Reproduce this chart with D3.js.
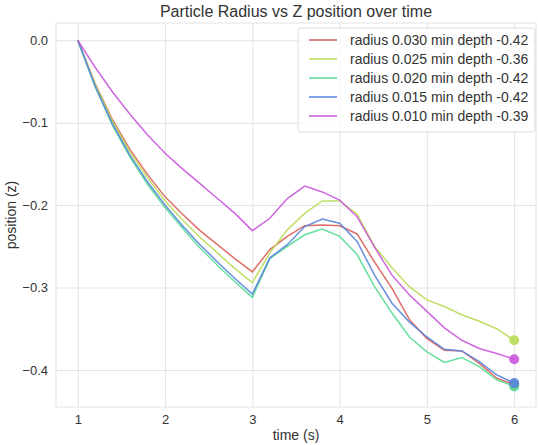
<!DOCTYPE html>
<html>
<head>
<meta charset="utf-8">
<script src="https://cdn.jsdelivr.net/npm/d3@7"></script>
<style>
  body { margin: 0; background: #fff; }
  svg { display: block; }
</style>
</head>
<body>
<div id="chart"></div>
<script>
// Time steps (s).
const times = [1.0, 1.2, 1.4, 1.6, 1.8, 2.0, 2.2, 2.4, 2.6, 2.8, 3.0, 3.2, 3.4,
  3.6, 3.8, 4.0, 4.2, 4.4, 4.6, 4.8, 5.0, 5.2, 5.4, 5.6, 5.8, 6.0];

// Z position per particle radius.
const radius030 = [0, -0.053, -0.097, -0.133, -0.163, -0.190, -0.211, -0.231, -0.248, -0.265, -0.281,
  -0.254, -0.238, -0.225, -0.224, -0.225, -0.235, -0.269, -0.301, -0.339, -0.362,
  -0.376, -0.377, -0.392, -0.410, -0.418];
const radius025 = [0, -0.054, -0.099, -0.136, -0.167, -0.195, -0.218, -0.239, -0.258, -0.277, -0.294,
  -0.258, -0.230, -0.210, -0.195, -0.195, -0.211, -0.250, -0.276, -0.299, -0.315,
  -0.323, -0.333, -0.341, -0.350, -0.364];
const radius020 = [0, -0.057, -0.104, -0.142, -0.175, -0.203, -0.228, -0.252, -0.273, -0.293, -0.312,
  -0.265, -0.250, -0.236, -0.229, -0.238, -0.260, -0.299, -0.331, -0.360, -0.378,
  -0.391, -0.385, -0.396, -0.412, -0.420];
const radius015 = [0, -0.056, -0.102, -0.140, -0.172, -0.200, -0.225, -0.248, -0.269, -0.289, -0.308,
  -0.264, -0.248, -0.226, -0.217, -0.222, -0.244, -0.285, -0.319, -0.342, -0.360,
  -0.375, -0.377, -0.390, -0.406, -0.416];
const radius010 = [0, -0.033, -0.063, -0.090, -0.115, -0.137, -0.156, -0.174, -0.192, -0.210, -0.231,
  -0.216, -0.192, -0.177, -0.184, -0.194, -0.214, -0.251, -0.285, -0.309, -0.329,
  -0.349, -0.364, -0.374, -0.380, -0.387];

const seriesNames = [
  "radius 0.030 min depth -0.42",
  "radius 0.025 min depth -0.36",
  "radius 0.020 min depth -0.42",
  "radius 0.015 min depth -0.42",
  "radius 0.010 min depth -0.39",
];
const seriesValues = [radius030, radius025, radius020, radius015, radius010];
const colors = ["#db5f57", "#b9db57", "#57db94", "#5784db", "#c957db"];

const xTicks = [1, 2, 3, 4, 5, 6];
const yTicks = [0, -0.1, -0.2, -0.3, -0.4];

/**
 * Layout.
 */
const width = 538;
const height = 445;
const marginLeft = 56;
const marginRight = 2;
const marginTop = 23;
const marginBottom = 38;
const textColor = "#333";
const gridColor = "#e3e3e3";

const svg = d3
  .select("#chart")
  .append("svg")
  .attr("width", width)
  .attr("height", height)
  .attr("font-family", "Liberation Sans, Arial, sans-serif");

const x = d3
  .scaleLinear()
  .domain([0.75, 6.25])
  .range([marginLeft, width - marginRight]);

const y = d3
  .scaleLinear()
  .domain([-0.445, 0.021])
  .range([height - marginBottom, marginTop]);

/**
 * Grid and axes.
 */
// Vertical grid lines with tick labels.
svg
  .append("g")
  .attr("transform", `translate(0,${height - marginBottom})`)
  .call(d3.axisBottom(x).tickValues(xTicks).tickFormat(d3.format("d"))
    .tickSize(-(height - marginTop - marginBottom)).tickPadding(8))
  .call((g) => g.select(".domain").remove())
  .call((g) => g.selectAll("line").attr("stroke", gridColor))
  .call((g) => g.selectAll("text").attr("fill", textColor)
    .attr("font-size", 13).attr("font-family", null));

// Horizontal grid lines with tick labels.
svg
  .append("g")
  .attr("transform", `translate(${marginLeft},0)`)
  .call(d3.axisLeft(y).tickValues(yTicks)
    .tickFormat((d) => d3.format(".1f")(d).replace("-", "\u2212"))
    .tickSize(-(width - marginLeft - marginRight)).tickPadding(8))
  .call((g) => g.select(".domain").remove())
  .call((g) => g.selectAll("line").attr("stroke", gridColor))
  .call((g) => g.selectAll("text").attr("fill", textColor)
    .attr("font-size", 13).attr("font-family", null));

// Frame around the plot area.
svg
  .append("rect")
  .attr("x", marginLeft)
  .attr("y", marginTop)
  .attr("width", width - marginLeft - marginRight)
  .attr("height", height - marginTop - marginBottom)
  .attr("fill", "none")
  .attr("stroke", gridColor);

/**
 * Lines.
 */
const line = d3
  .line()
  .x((d, i) => x(times[i]))
  .y((d) => y(d));

svg
  .selectAll(".series")
  .data(seriesValues)
  .join("path")
  .attr("class", "series")
  .attr("d", line)
  .attr("fill", "none")
  .attr("stroke", (d, i) => colors[i])
  .attr("stroke-width", 1.5)
  .attr("stroke-opacity", 0.9);

// End points.
svg
  .selectAll(".end")
  .data(seriesValues)
  .join("circle")
  .attr("class", "end")
  .attr("cx", x(times[times.length - 1]))
  .attr("cy", (d) => y(d[d.length - 1]))
  .attr("r", 5)
  .attr("fill", (d, i) => colors[i])
  .attr("fill-opacity", 0.9);

/**
 * Legend.
 */
const legend = svg.append("g").attr("transform", "translate(298,28)");

legend
  .append("rect")
  .attr("width", 237)
  .attr("height", 104)
  .attr("rx", 3)
  .attr("fill", "#fff")
  .attr("fill-opacity", 0.8)
  .attr("stroke", "#dcdcdc");

const rows = legend
  .selectAll(".row")
  .data(seriesNames)
  .join("g")
  .attr("class", "row")
  .attr("transform", (d, i) => `translate(0,${12 + i * 19})`);

rows
  .append("line")
  .attr("x1", 11)
  .attr("x2", 39)
  .attr("stroke", (d, i) => colors[i])
  .attr("stroke-width", 1.5);

rows
  .append("text")
  .attr("x", 52)
  .attr("dy", "0.35em")
  .attr("font-size", 14)
  .attr("fill", textColor)
  .text((d) => d);

/**
 * Titles.
 */
svg
  .append("text")
  .attr("x", (marginLeft + width - marginRight) / 2)
  .attr("y", 17)
  .attr("text-anchor", "middle")
  .attr("font-size", 16)
  .attr("fill", textColor)
  .text("Particle Radius vs Z position over time");

svg
  .append("text")
  .attr("x", (marginLeft + width - marginRight) / 2)
  .attr("y", 440)
  .attr("text-anchor", "middle")
  .attr("font-size", 14)
  .attr("fill", textColor)
  .text("time (s)");

svg
  .append("text")
  .attr("transform", `translate(16,${(marginTop + height - marginBottom) / 2}) rotate(-90)`)
  .attr("text-anchor", "middle")
  .attr("font-size", 14)
  .attr("fill", textColor)
  .text("position (z)");
</script>
</body>
</html>
